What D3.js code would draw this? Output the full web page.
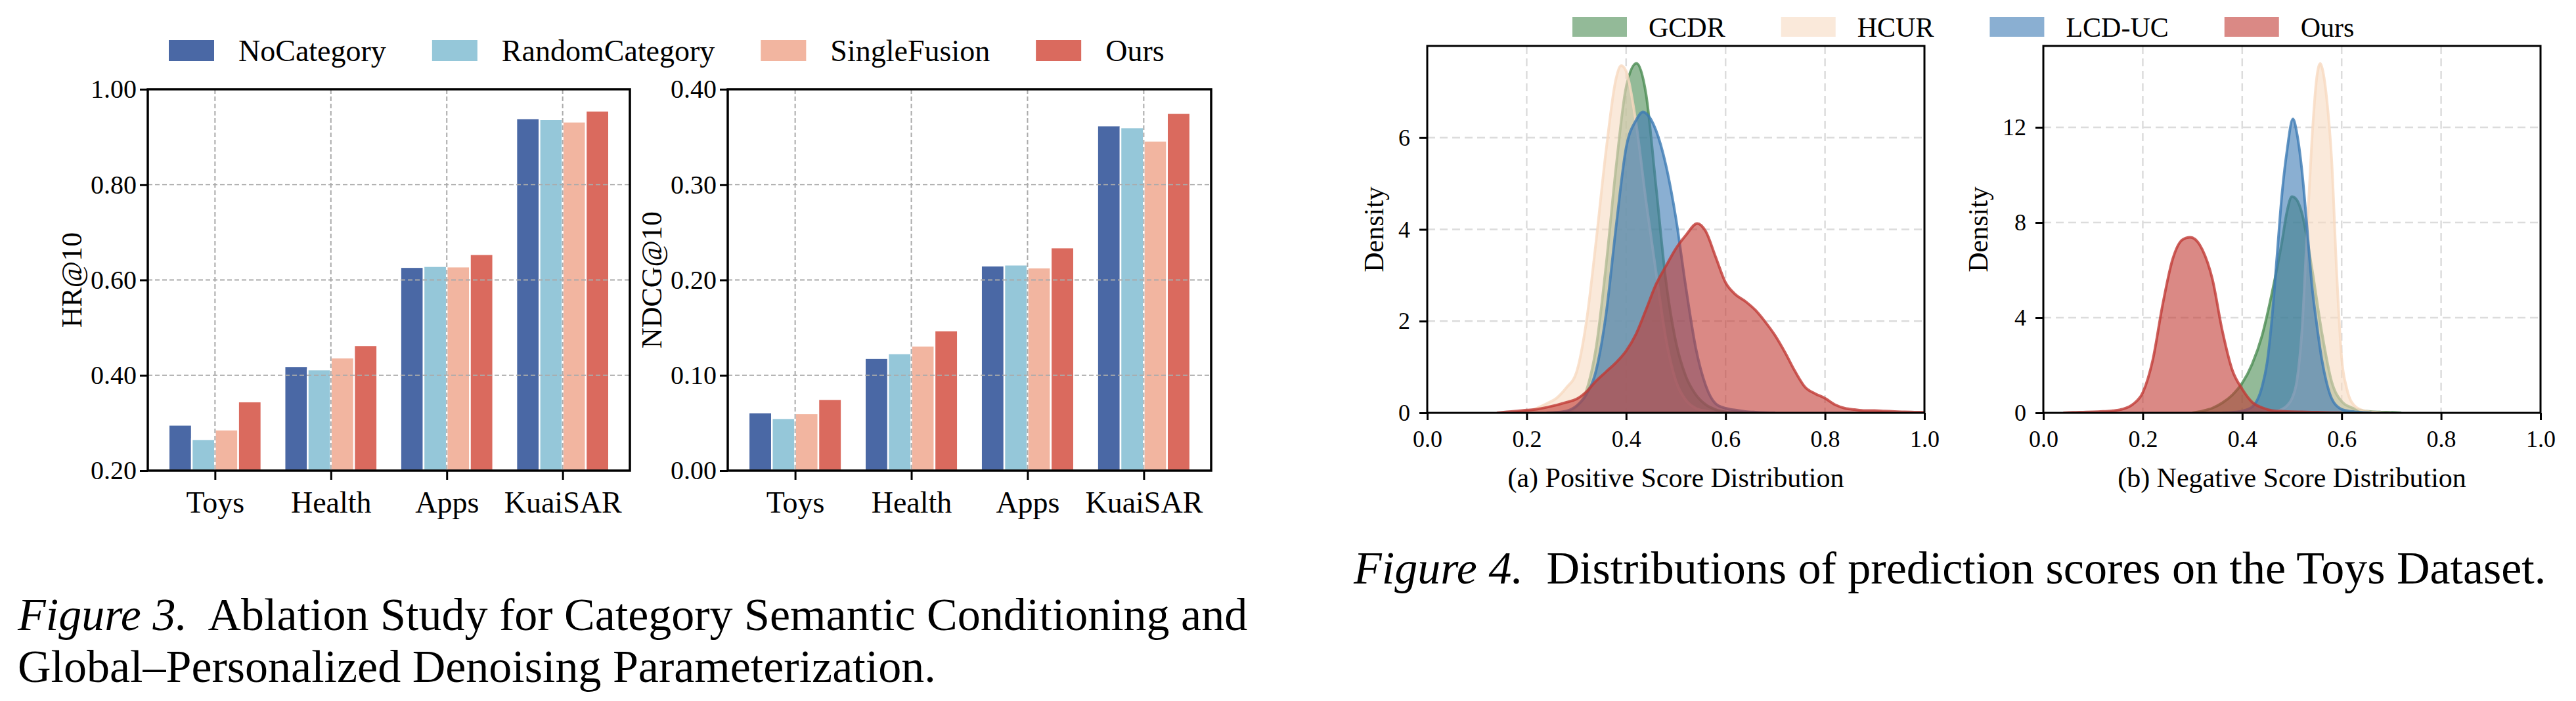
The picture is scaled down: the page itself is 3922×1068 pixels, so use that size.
<!DOCTYPE html>
<html>
<head>
<meta charset="utf-8">
<script src="https://cdn.jsdelivr.net/npm/d3@7"></script>
<style>
  body { margin: 0; background: #fff; }
  svg { display: block; }
  svg text { font-family: "Liberation Serif", "Times New Roman", serif; }
</style>
</head>
<body>
<svg id="fig" width="3922" height="1068"></svg>
<script>
// ---------- Figure 3 data (ablation bars) ----------
const categories = ["Toys", "Health", "Apps", "KuaiSAR"];
const methods = ["NoCategory", "RandomCategory", "SingleFusion", "Ours"];

const hrNoCategory     = [0.296, 0.419, 0.627, 0.939];
const hrRandomCategory = [0.266, 0.412, 0.629, 0.937];
const hrSingleFusion   = [0.286, 0.437, 0.628, 0.932];
const hrOurs           = [0.345, 0.463, 0.654, 0.955];

const ndcgNoCategory     = [0.061, 0.118, 0.215, 0.362];
const ndcgRandomCategory = [0.055, 0.123, 0.216, 0.360];
const ndcgSingleFusion   = [0.060, 0.131, 0.213, 0.346];
const ndcgOurs           = [0.075, 0.147, 0.234, 0.375];

const hrTicks = [0.2, 0.4, 0.6, 0.8, 1.0];
const ndcgTicks = [0.0, 0.1, 0.2, 0.3, 0.4];

// ---------- Figure 4 data (score densities, [score, density]) ----------
const models = ["GCDR", "HCUR", "LCD-UC", "Ours"];

const posGCDR = [[0.24,0],[0.26,0.01],[0.28,0.02],[0.30,0.13],[0.32,0.48],[0.34,1.45],[0.36,3.25],
  [0.38,5.38],[0.40,7.10],[0.421,7.62],[0.44,6.95],[0.46,4.95],[0.48,2.88],[0.50,1.55],[0.52,0.80],
  [0.54,0.40],[0.56,0.18],[0.58,0.07],[0.60,0.02],[0.62,0]];
const posHCUR = [[0.18,0],[0.20,0.03],[0.22,0.10],[0.24,0.20],[0.26,0.32],[0.28,0.55],[0.30,0.88],
  [0.32,1.98],[0.34,3.78],[0.36,5.75],[0.38,7.30],[0.39,7.57],[0.40,7.45],[0.42,6.32],[0.44,4.62],
  [0.46,3.08],[0.48,1.62],[0.50,0.70],[0.52,0.28],[0.54,0.10],[0.56,0.04],[0.58,0.01],[0.60,0]];
const posLCDUC = [[0.24,0],[0.26,0.01],[0.28,0.04],[0.30,0.15],[0.32,0.40],[0.34,0.94],[0.36,2.18],
  [0.38,4.08],[0.40,5.78],[0.42,6.38],[0.434,6.56],[0.44,6.53],[0.46,6.16],[0.48,5.40],[0.50,4.25],
  [0.52,2.75],[0.54,1.42],[0.56,0.60],[0.58,0.20],[0.60,0.10],[0.62,0.06],[0.64,0.03],[0.66,0.015],
  [0.68,0.005],[0.70,0]];
const posOurs = [[0.14,0],[0.16,0.02],[0.18,0.04],[0.20,0.06],[0.22,0.08],[0.24,0.12],[0.26,0.17],
  [0.28,0.23],[0.30,0.30],[0.32,0.46],[0.34,0.70],[0.36,0.90],[0.38,1.10],[0.40,1.35],[0.42,1.72],
  [0.44,2.25],[0.46,2.80],[0.48,3.20],[0.50,3.58],[0.52,3.87],[0.543,4.13],[0.56,3.96],[0.58,3.40],
  [0.60,2.84],[0.62,2.58],[0.64,2.43],[0.66,2.24],[0.68,1.98],[0.70,1.68],[0.72,1.31],[0.74,0.90],
  [0.76,0.56],[0.78,0.42],[0.80,0.32],[0.82,0.18],[0.84,0.10],[0.86,0.07],[0.88,0.05],[0.90,0.05],
  [0.92,0.04],[0.94,0.03],[0.96,0.02],[0.98,0.015],[1.00,0.01]];

const negGCDR = [[0.30,0],[0.32,0.08],[0.34,0.20],[0.36,0.42],[0.38,0.75],[0.40,1.25],[0.42,2.05],
  [0.44,3.25],[0.46,5.05],[0.48,7.20],[0.49,8.45],[0.50,9.09],[0.51,8.94],[0.52,8.40],[0.54,6.10],
  [0.56,3.40],[0.58,1.30],[0.60,0.48],[0.62,0.22],[0.64,0.10],[0.66,0.05],[0.68,0.03],[0.70,0.02],[0.72,0]];
const negHCUR = [[0.44,0],[0.46,0.03],[0.48,0.15],[0.49,0.30],[0.50,0.60],[0.51,1.35],[0.52,3.40],
  [0.53,7.40],[0.54,11.40],[0.55,14.10],[0.557,14.68],[0.56,14.55],[0.57,13.20],[0.58,10.60],
  [0.59,5.90],[0.60,2.30],[0.61,1.05],[0.62,0.45],[0.64,0.12],[0.66,0.04],[0.68,0.01],[0.70,0]];
const negLCDUC = [[0.36,0],[0.38,0.02],[0.40,0.08],[0.42,0.25],[0.44,1.10],[0.45,2.10],[0.46,4.00],
  [0.47,6.60],[0.48,9.20],[0.49,11.00],[0.502,12.35],[0.51,11.75],[0.52,10.20],[0.53,7.90],[0.54,5.40],
  [0.55,3.70],[0.56,2.25],[0.57,1.25],[0.58,0.60],[0.60,0.15],[0.62,0.06],[0.64,0.02],[0.66,0]];
const negOurs = [[0.04,0],[0.06,0.02],[0.08,0.03],[0.10,0.04],[0.12,0.06],[0.14,0.09],[0.16,0.16],
  [0.18,0.36],[0.20,0.85],[0.22,2.21],[0.24,4.55],[0.26,6.45],[0.28,7.28],[0.295,7.38],[0.30,7.36],
  [0.32,6.85],[0.34,5.62],[0.36,3.45],[0.38,1.80],[0.40,1.00],[0.42,0.45],[0.44,0.22],[0.46,0.10],
  [0.48,0.07],[0.50,0.05],[0.52,0.04],[0.54,0.03],[0.56,0.02],[0.58,0.01],[0.60,0]];

const scoreTicks = [0, 0.2, 0.4, 0.6, 0.8, 1.0];
const posDensityTicks = [0, 2, 4, 6];
const negDensityTicks = [0, 4, 8, 12];

// ---------- styles ----------
const barColors = ["#4a68a5", "#95c7d9", "#f2b5a0", "#da6a5e"];
const kdeColors = ["#4b8c53", "#f7dac1", "#3c7ab4", "#c13a34"];
const serif = '"Liberation Serif", "Times New Roman", serif';

const svg = d3.select("#fig");
svg.append("rect").attr("width", 3922).attr("height", 1068).attr("fill", "#fff");

function styleAxis(g, size) {
  g.select(".domain").remove();
  g.selectAll(".tick line").attr("stroke", "#000").attr("stroke-width", 3);
  g.selectAll("text").style("font-size", size + "px").style("font-family", serif).attr("fill", "#000");
}

function yLabel(text, cx, cy, size) {
  svg.append("text")
    .attr("transform", `translate(${cx},${cy}) rotate(-90)`)
    .attr("text-anchor", "middle").attr("dy", "0.35em")
    .style("font-size", size + "px").text(text);
}

// ---------- bar panels ----------
function barPanel(frame, series, yDom, ticks, label, labelX) {
  const g = svg.append("g");
  const x = d3.scaleLinear().domain([-0.58, 3.58]).range([frame.x0, frame.x1]);
  const y = d3.scaleLinear().domain(yDom).range([frame.y1, frame.y0]);
  const bw = x(0.2) - x(0);

  series.forEach((vals, j) => {
    g.selectAll(null).data(vals).join("rect")
      .attr("x", (d, i) => x(i + (j - 2) * 0.2))
      .attr("width", bw)
      .attr("y", d => y(d))
      .attr("height", d => y(yDom[0]) - y(d))
      .attr("fill", barColors[j])
      .attr("stroke", "#fff").attr("stroke-width", 2.5);
  });

  // dashed grid drawn over bars
  g.selectAll(null).data(ticks.slice(1, -1)).join("line")
    .attr("x1", frame.x0).attr("x2", frame.x1)
    .attr("y1", d => y(d)).attr("y2", d => y(d))
    .attr("stroke", "#aaa").attr("stroke-width", 2).attr("stroke-dasharray", "7,4");
  g.selectAll(null).data(categories).join("line")
    .attr("x1", (d, i) => x(i)).attr("x2", (d, i) => x(i))
    .attr("y1", frame.y0).attr("y2", frame.y1)
    .attr("stroke", "#aaa").attr("stroke-width", 2).attr("stroke-dasharray", "7,4");

  g.append("rect")
    .attr("x", frame.x0).attr("y", frame.y0)
    .attr("width", frame.x1 - frame.x0).attr("height", frame.y1 - frame.y0)
    .attr("fill", "none").attr("stroke", "#000").attr("stroke-width", 3.5);

  g.append("g").attr("transform", `translate(${frame.x0},0)`)
    .call(d3.axisLeft(y).tickValues(ticks).tickFormat(d3.format(".2f")).tickSize(12).tickPadding(5))
    .call(a => styleAxis(a, 40));
  g.append("g").attr("transform", `translate(0,${frame.y1})`)
    .call(d3.axisBottom(x).tickValues([0, 1, 2, 3]).tickFormat(i => categories[i]).tickSize(14).tickPadding(17))
    .call(a => styleAxis(a, 46));

  yLabel(label, labelX, (frame.y0 + frame.y1) / 2, 44);
}

barPanel({x0: 225, x1: 959, y0: 136, y1: 717},
  [hrNoCategory, hrRandomCategory, hrSingleFusion, hrOurs], [0.2, 1.0], hrTicks, "HR@10", 109);
barPanel({x0: 1108, x1: 1844, y0: 136, y1: 717},
  [ndcgNoCategory, ndcgRandomCategory, ndcgSingleFusion, ndcgOurs], [0.0, 0.4], ndcgTicks, "NDCG@10", 992);

// legends: swatch, label, then gap to next entry
function legend(names, colors, opacity, x0, top, sw, sh, pad, gap, size, baseline) {
  let x = x0;
  names.forEach((name, i) => {
    svg.append("rect").attr("x", x).attr("y", top).attr("width", sw).attr("height", sh)
      .attr("fill", colors[i]).attr("fill-opacity", opacity);
    const t = svg.append("text").attr("x", x + pad).attr("y", baseline)
      .style("font-size", size + "px").text(name);
    x = x + pad + t.node().getComputedTextLength() + gap;
  });
}
legend(methods, barColors, 1, 257, 61, 69, 32, 106, 70, 46, 93);

// ---------- density panels ----------
function densityPanel(frame, curves, yMax, yTicks, labelX, caption, id) {
  const g = svg.append("g");
  const x = d3.scaleLinear().domain([0, 1]).range([frame.x0, frame.x1]);
  const y = d3.scaleLinear().domain([0, yMax]).range([frame.y1, frame.y0]);

  svg.append("clipPath").attr("id", id).append("rect")
    .attr("x", frame.x0).attr("y", frame.y0)
    .attr("width", frame.x1 - frame.x0).attr("height", frame.y1 - frame.y0);

  g.selectAll(null).data(scoreTicks.slice(1, -1)).join("line")
    .attr("x1", d => x(d)).attr("x2", d => x(d)).attr("y1", frame.y0).attr("y2", frame.y1)
    .attr("stroke", "#dcdcdc").attr("stroke-width", 2.5).attr("stroke-dasharray", "12,7");
  g.selectAll(null).data(yTicks.slice(1)).join("line")
    .attr("x1", frame.x0).attr("x2", frame.x1).attr("y1", d => y(d)).attr("y2", d => y(d))
    .attr("stroke", "#dcdcdc").attr("stroke-width", 2.5).attr("stroke-dasharray", "12,7");

  const plot = g.append("g").attr("clip-path", `url(#${id})`);
  const area = d3.area().x(d => x(d[0])).y0(y(0)).y1(d => y(d[1])).curve(d3.curveMonotoneX);
  const line = d3.line().x(d => x(d[0])).y(d => y(d[1])).curve(d3.curveMonotoneX);
  curves.forEach((pts, i) => {
    plot.append("path").attr("d", area(pts)).attr("fill", kdeColors[i]).attr("fill-opacity", 0.6);
    plot.append("path").attr("d", line(pts)).attr("fill", "none")
      .attr("stroke", kdeColors[i]).attr("stroke-opacity", 0.8).attr("stroke-width", 4)
      .attr("stroke-linejoin", "round");
  });

  g.append("rect")
    .attr("x", frame.x0).attr("y", frame.y0)
    .attr("width", frame.x1 - frame.x0).attr("height", frame.y1 - frame.y0)
    .attr("fill", "none").attr("stroke", "#000").attr("stroke-width", 3);

  g.append("g").attr("transform", `translate(${frame.x0},0)`)
    .call(d3.axisLeft(y).tickValues(yTicks).tickFormat(d3.format("d")).tickSize(12).tickPadding(14))
    .call(a => styleAxis(a, 36));
  g.append("g").attr("transform", `translate(0,${frame.y1})`)
    .call(d3.axisBottom(x).tickValues(scoreTicks).tickFormat(d3.format(".1f")).tickSize(11).tickPadding(15))
    .call(a => styleAxis(a, 36));

  yLabel("Density", labelX, (frame.y0 + frame.y1) / 2, 42);
  svg.append("text").attr("x", (frame.x0 + frame.x1) / 2).attr("y", 742)
    .attr("text-anchor", "middle").style("font-size", "42px").text(caption);
}

densityPanel({x0: 2173, x1: 2930, y0: 70, y1: 629},
  [posGCDR, posHCUR, posLCDUC, posOurs], 8.0, posDensityTicks, 2091,
  "(a) Positive Score Distribution", "clipPos");
densityPanel({x0: 3111, x1: 3868, y0: 70, y1: 629},
  [negGCDR, negHCUR, negLCDUC, negOurs], 15.42, negDensityTicks, 3011,
  "(b) Negative Score Distribution", "clipNeg");

legend(models, kdeColors, 0.6, 2394, 26, 83, 30, 116, 85, 42, 56);

// ---------- captions ----------
function caption(x, y, label, rest) {
  const t = svg.append("text").attr("x", x).attr("y", y).style("font-size", "70px");
  if (label) t.append("tspan").style("font-style", "italic").text(label);
  t.append("tspan").attr("dx", label ? 18 : 0).text(rest);
}
caption(27, 960, "Figure 3.", " Ablation Study for Category Semantic Conditioning and");
caption(27, 1039, null, "Global\u2013Personalized Denoising Parameterization.");
caption(2061, 889, "Figure 4.", " Distributions of prediction scores on the Toys Dataset.");
</script>
</body>
</html>
